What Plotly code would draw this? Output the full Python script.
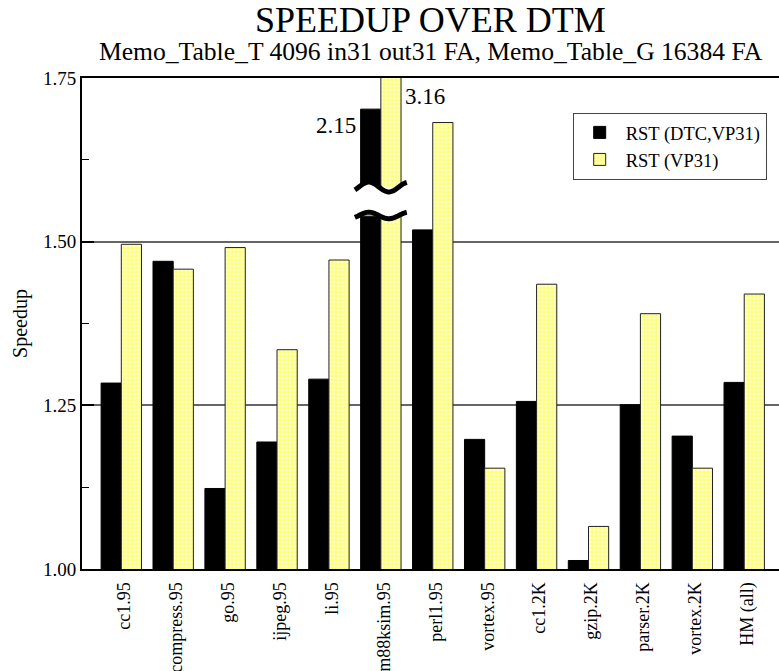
import numpy as np
import plotly.graph_objects as go

# ---- data -------------------------------------------------------------
benchmarks = ["cc1.95", "compress.95", "go.95", "ijpeg.95", "li.95", "m88ksim.95",
              "perl1.95", "vortex.95", "cc1.2K", "gzip.2K", "parser.2K", "vortex.2K",
              "HM (all)"]
rst_dtc_vp31 = [1.284, 1.470, 1.123, 1.194, 1.290, 2.15, 1.518, 1.198, 1.256, 1.013,
                1.251, 1.203, 1.285]
rst_vp31 = [1.496, 1.458, 1.491, 1.335, 1.472, 3.16, 1.682, 1.154, 1.435, 1.065,
            1.390, 1.154, 1.420]
y_ticks = [1.00, 1.25, 1.50, 1.75]
y_minor_ticks = [1.125, 1.375, 1.625]

# ---- style / layout constants ----------------------------------------
FONT = "Liberation Serif, Times New Roman, serif"
BAR_W = 0.389                 # width of one bar (category spacing = 1)
Y_RANGE = [1.0, 1.75]
BREAK_LOW = 1.539             # lower segment of broken bars stops here
UPPER_DOMAIN = [0.778, 1.0]   # upper panel of the broken axis
UPPER_RANGE = [1.95, 2.23]
YELLOW_BG = "#ffffc4"
YELLOW_FG = "#ffff00"

x = np.arange(len(benchmarks))
dtc = np.array(rst_dtc_vp31)
vp = np.array(rst_vp31)
broken = int(np.argmax(np.maximum(dtc, vp)))   # the bar pair drawn across the break
is_broken = x == broken

black_marker = dict(color="black", line=dict(color="black", width=1))
yellow_marker = dict(color=YELLOW_BG, line=dict(color="#222", width=1),
                     pattern=dict(shape=".", fgcolor=YELLOW_FG, bgcolor=YELLOW_BG,
                                  size=4, solidity=0.45))

fig = go.Figure()
# lower panel (main axis); the broken pair stops at the break
fig.add_trace(go.Bar(x=x, y=np.where(is_broken, np.minimum(dtc, BREAK_LOW), dtc),
                     width=BAR_W, offset=-BAR_W, marker=black_marker,
                     name="RST (DTC,VP31)", yaxis="y"))
fig.add_trace(go.Bar(x=x, y=np.where(is_broken, np.minimum(vp, BREAK_LOW), vp),
                     width=BAR_W, offset=0, marker=yellow_marker,
                     name="RST (VP31)", yaxis="y"))
# upper panel above the break
fig.add_trace(go.Bar(x=x[is_broken], y=dtc[is_broken], width=BAR_W, offset=-BAR_W,
                     marker=black_marker, showlegend=False, yaxis="y2"))
fig.add_trace(go.Bar(x=x[is_broken], y=vp[is_broken], width=BAR_W, offset=0,
                     marker=yellow_marker, showlegend=False, yaxis="y2"))


def wave(cx, cy, hw, amp, n=40):
    t = np.linspace(0, 1, n)
    xs = cx - hw + 2 * hw * t
    ys = cy + amp * np.sin(2 * np.pi * (-0.1 + 1.3 * t))
    return xs, ys


upper_y = Y_RANGE[0] + UPPER_DOMAIN[0] * (Y_RANGE[1] - Y_RANGE[0])
ux, uy = wave(broken, upper_y, 0.5, 0.0075)
lx, ly = wave(broken, BREAK_LOW + 0.001, 0.5, 0.005)


def to_path(xs, ys, close=False):
    p = "M " + " L ".join(f"{a:.4f},{b:.5f}" for a, b in zip(xs, ys))
    return p + (" Z" if close else "")


gap_path = to_path(np.concatenate([ux, lx[::-1]]), np.concatenate([uy, ly[::-1]]), True)
shapes = [
    dict(type="path", path=gap_path, xref="x", yref="y", fillcolor="white",
         line=dict(width=0), layer="above"),
    dict(type="path", path=to_path(ux, uy), xref="x", yref="y",
         line=dict(color="black", width=5), layer="above"),
    dict(type="path", path=to_path(lx, ly), xref="x", yref="y",
         line=dict(color="black", width=5), layer="above"),
]

annotations = [
    dict(text="SPEEDUP OVER DTM", xref="paper", yref="paper", x=0.5, y=1,
         yanchor="middle", yshift=58, showarrow=False,
         font=dict(family=FONT, size=36, color="black")),
    dict(text="Memo_Table_T 4096 in31 out31 FA, Memo_Table_G 16384 FA", xref="paper",
         yref="paper", x=0.5, y=1, yanchor="middle", yshift=27, showarrow=False,
         font=dict(family=FONT, size=25.6, color="black")),
    dict(text=f"{dtc[broken]:.2f}", xref="x", yref="y2", x=broken - BAR_W,
         y=dtc[broken], xanchor="right", yanchor="top", xshift=-3, yshift=-2,
         showarrow=False, font=dict(family=FONT, size=23, color="black")),
    dict(text=f"{vp[broken]:.2f}", xref="x", yref="paper", x=broken + BAR_W, y=1,
         xanchor="left", yanchor="top", xshift=2, yshift=-4,
         showarrow=False, font=dict(family=FONT, size=23, color="black")),
]

fig.update_layout(
    width=779, height=671,
    margin=dict(l=82, r=0, t=78, b=102),
    paper_bgcolor="white", plot_bgcolor="rgba(0,0,0,0)",
    barmode="overlay",
    font=dict(family=FONT, color="black"),
    showlegend=True,
    legend=dict(x=0.704, y=0.929, xanchor="left", yanchor="top", bgcolor="white",
                bordercolor="#444", borderwidth=1, font=dict(family=FONT, size=18.5),
                itemwidth=42, tracegroupgap=0),
    xaxis=dict(range=[-0.757, 12.67], tickmode="array", tickvals=x.tolist(),
               ticktext=benchmarks, tickangle=-90, ticks="", showgrid=False,
               zeroline=False, showline=True, linecolor="black", linewidth=2,
               mirror=True, tickfont=dict(family=FONT, size=18), automargin=False,
               ticklabelshift=3, ticklabelstandoff=4, anchor="y"),
    yaxis=dict(domain=[0, 1], range=Y_RANGE, tickmode="array", tickvals=y_ticks,
               ticktext=[f"{v:.2f}" for v in y_ticks], ticks="inside", ticklen=12,
               tickwidth=1.5, tickcolor="black", showline=True, linecolor="black",
               linewidth=2, showgrid=True, gridcolor="#666", gridwidth=1.5,
               zeroline=False, tickfont=dict(family=FONT, size=19), automargin=False,
               minor=dict(tickmode="array", tickvals=y_minor_ticks, ticks="inside",
                          ticklen=7, tickwidth=1, tickcolor="black", showgrid=False),
               title=dict(text="Speedup", font=dict(family=FONT, size=20), standoff=10)),
    yaxis2=dict(domain=UPPER_DOMAIN, range=UPPER_RANGE, anchor="x", visible=False),
    yaxis3=dict(overlaying="y", side="right", anchor="x", range=Y_RANGE,
                tickmode="array", tickvals=[1.25, 1.5], ticks="inside", ticklen=12,
                tickwidth=1.5, tickcolor="black", showticklabels=False,
                showgrid=False, showline=False, zeroline=False, automargin=False,
                minor=dict(tickmode="array", tickvals=y_minor_ticks, ticks="inside",
                           ticklen=7, tickwidth=1, tickcolor="black", showgrid=False)),
    shapes=shapes,
    annotations=annotations,
)

fig.write_html("out.html")
